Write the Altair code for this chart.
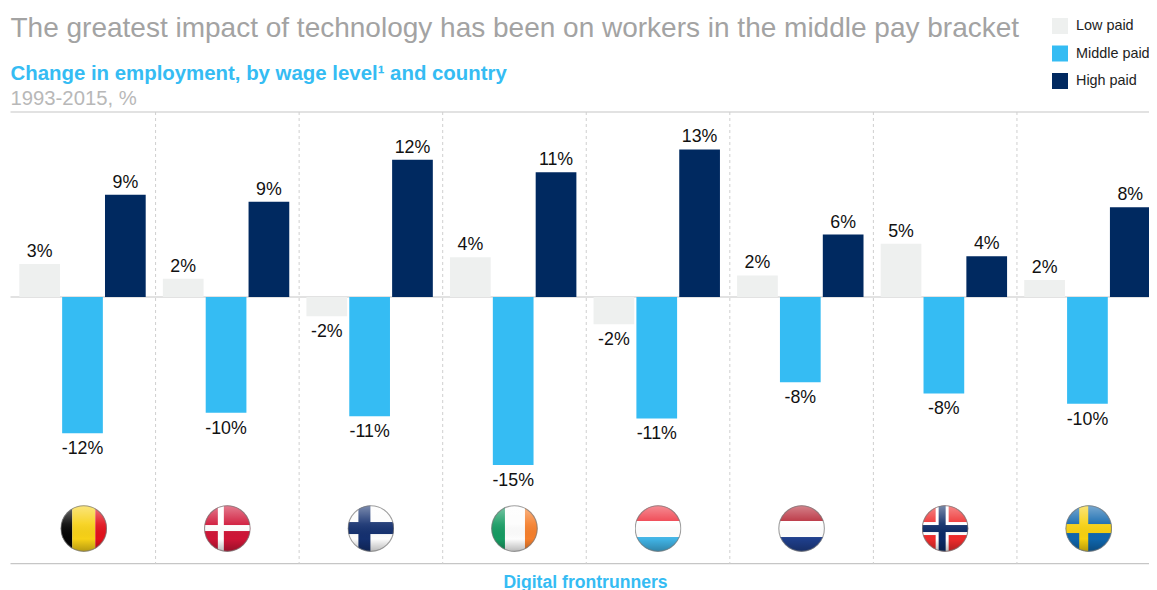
import base64
import altair as alt
import pandas as pd

FONT = "Liberation Sans"
countries = ["Belgium", "Denmark", "Finland", "Ireland", "Luxembourg", "Netherlands", "Norway", "Sweden"]
groups = ["Low paid", "Middle paid", "High paid"]
colors = ["#eef0ef", "#35bcf3", "#002960"]

low_values = [2.9, 1.6, -1.7, 3.5, -2.4, 1.9, 4.7, 1.5]
mid_values = [-12.0, -10.2, -10.5, -14.8, -10.7, -7.5, -8.5, -9.4]
high_values = [9.0, 8.4, 12.1, 11.0, 13.0, 5.5, 3.6, 7.9]
low_labels = ["3%", "2%", "-2%", "4%", "-2%", "2%", "5%", "2%"]
mid_labels = ["-12%", "-10%", "-11%", "-15%", "-11%", "-8%", "-8%", "-10%"]
high_labels = ["9%", "9%", "12%", "11%", "13%", "6%", "4%", "8%"]

title_text = "The greatest impact of technology has been on workers in the middle pay bracket"
subtitle_text = "Change in employment, by wage level¹ and country"
unit_text = "1993-2015, %"
footer_text = "Digital frontrunners"


def flag(parts):
    body = "".join(parts)
    svg = (
        '<svg xmlns="http://www.w3.org/2000/svg" width="94" height="94" viewBox="0 0 47 47">'
        '<defs><clipPath id="c"><circle cx="23.5" cy="23.5" r="23"/></clipPath>'
        '<linearGradient id="g" x1="0" y1="0" x2="0" y2="1">'
        '<stop offset="0" stop-color="#fff" stop-opacity=".45"/>'
        '<stop offset=".4" stop-color="#fff" stop-opacity=".08"/>'
        '<stop offset=".72" stop-color="#000" stop-opacity="0"/>'
        '<stop offset="1" stop-color="#000" stop-opacity=".28"/>'
        "</linearGradient></defs>"
        f'<g clip-path="url(#c)">{body}<rect width="47" height="47" fill="url(#g)"/></g>'
        '<circle cx="23.5" cy="23.5" r="22.8" fill="none" stroke="#777" stroke-opacity=".7" stroke-width="1.1"/>'
        "</svg>"
    )
    return "data:image/svg+xml;base64," + base64.b64encode(svg.encode()).decode()


def r(x, y, w, h, c):
    return f'<rect x="{x}" y="{y}" width="{w}" height="{h}" fill="{c}"/>'


flags = [
    flag([r(0, 0, 12, 47, "#050505"), r(12, 0, 23, 47, "#f7d117"), r(35, 0, 12, 47, "#e2111c")]),
    flag([r(0, 0, 47, 47, "#cf1537"), r(0, 20, 47, 6, "#fff"), r(14, 0, 6, 47, "#fff")]),
    flag([r(0, 0, 47, 47, "#fdfdfd"), r(0, 17, 47, 12, "#14306f"), r(11, 0, 12, 47, "#14306f")]),
    flag([r(0, 0, 14, 47, "#169b62"), r(14, 0, 20, 47, "#fdfdfd"), r(34, 0, 13, 47, "#f57f2c")]),
    flag([r(0, 0, 47, 16, "#ee3340"), r(0, 16, 47, 16, "#ffffff"), r(0, 32, 47, 15, "#41b4e6")]),
    flag([r(0, 0, 47, 16, "#b3202f"), r(0, 16, 47, 16, "#ffffff"), r(0, 32, 47, 15, "#1f3f8c")]),
    flag([r(0, 0, 47, 47, "#ee2b2b"), r(0, 17, 47, 13, "#fff"), r(14, 0, 13, 47, "#fff"),
          r(0, 20, 47, 7, "#0c2a66"), r(17, 0, 7, 47, "#0c2a66")]),
    flag([r(0, 0, 47, 47, "#0f66ad"), r(0, 19, 47, 9, "#f6d00f"), r(14, 0, 9, 47, "#f6d00f")]),
]

rows = []
for i, c in enumerate(countries):
    rows.append({"country": c, "group": groups[0], "value": low_values[i], "label": low_labels[i]})
    rows.append({"country": c, "group": groups[1], "value": mid_values[i], "label": mid_labels[i]})
    rows.append({"country": c, "group": groups[2], "value": high_values[i], "label": high_labels[i]})
df = pd.DataFrame(rows)

xscale = alt.Scale(type="band", domain=countries, range=[2.5, 1151], paddingInner=0, paddingOuter=0)
yscale = alt.Scale(domain=[-20, 15], range=[516, 118.75], nice=False, zero=False)
offset = alt.XOffset("group:N", sort=groups,
                     scale=alt.Scale(domain=groups, range=[8.8, 135.2], paddingInner=0.05, paddingOuter=0))
X = alt.X("country:N", scale=xscale, axis=None, sort=countries)
Y = alt.Y("value:Q", scale=yscale, axis=None)

base = alt.Chart(df)

bars = base.mark_bar(cornerRadius=0).encode(
    x=X, xOffset=offset, y=Y, y2=alt.datum(0),
    color=alt.Color("group:N", sort=groups,
                    scale=alt.Scale(domain=groups, range=colors),
                    legend=alt.Legend(title=None, orient="none", legendX=1044, legendY=10,
                                      symbolType="square", symbolSize=256, symbolStrokeWidth=0,
                                      labelFont=FONT, labelFontSize=14.4, labelColor="#222222",
                                      labelOffset=8, rowPadding=11.5, padding=0)),
)

labels_pos = base.transform_filter("datum.value >= 0").mark_text(
    font=FONT, fontSize=17.8, color="#111111", baseline="bottom", dy=-3
).encode(x=X, xOffset=offset, y=Y, text="label:N")

labels_neg = base.transform_filter("datum.value < 0").mark_text(
    font=FONT, fontSize=17.8, color="#111111", baseline="top", dy=7
).encode(x=X, xOffset=offset, y=Y, text="label:N")

sep_df = pd.DataFrame({"country": countries[:-1], "top": [16.3] * 7, "bottom": [-23.5] * 7})
sep = alt.Chart(sep_df).mark_rule(
    color="#cfcfcf", strokeDash=[3, 3], strokeWidth=1, xOffset=1.5
).encode(
    x=alt.X("country:N", scale=xscale, axis=None, sort=countries, bandPosition=1),
    y=alt.Y("top:Q", scale=yscale, axis=None), y2="bottom:Q",
)

hlines = alt.Chart(pd.DataFrame({"v": [16.3, 0, -23.5]})).mark_rule(
    strokeWidth=1.2, color="#c6c6c6"
).encode(
    x=alt.value(2.5), x2=alt.value(1141),
    y=alt.Y("v:Q", scale=yscale, axis=None),
)

img = alt.Chart(pd.DataFrame({"country": countries, "url": flags, "pos": [-20.4] * 8})).mark_image(
    width=47, height=47, align="center", baseline="middle", xOffset=1.5
).encode(
    x=alt.X("country:N", scale=xscale, axis=None, sort=countries),
    y=alt.Y("pos:Q", scale=yscale, axis=None),
    url="url:N",
)


def note(text, x, y, size, color, bold=False, align="left"):
    return alt.Chart(pd.DataFrame({"t": [text]})).mark_text(
        font=FONT, fontSize=size, color=color, align=align, baseline="alphabetic",
        fontWeight="bold" if bold else "normal",
    ).encode(x=alt.value(x), y=alt.value(y), text="t:N")


notes = [
    note(title_text, 2.5, 29, 28, "#a3a3a3"),
    note(subtitle_text, 2.5, 72, 20.4, "#35bcf3", bold=True),
    note(unit_text, 2.5, 97, 20.3, "#b8b8b8"),
    note(footer_text, 577.5, 579.5, 17.6, "#35bcf3", bold=True, align="center"),
]

chart = alt.layer(hlines, sep, bars, labels_pos, labels_neg, img, *notes).properties(
    width=1141, height=582, padding=0, autosize=alt.AutoSizeParams(type="none"),
).configure_view(stroke=None)

chart.save("out.html", embed_options={"renderer": "svg", "actions": False})
